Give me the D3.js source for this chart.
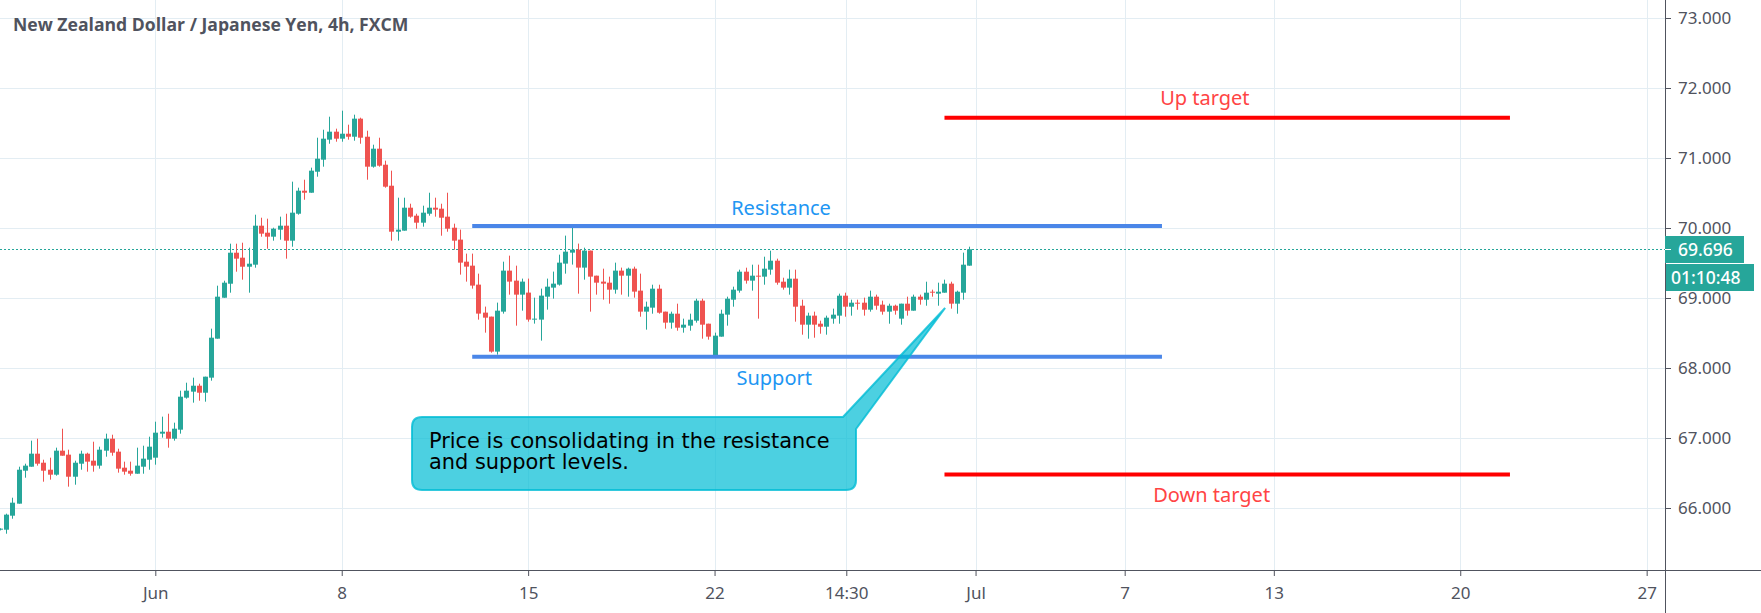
<!DOCTYPE html>
<html>
<head>
<meta charset="utf-8">
<script src="https://cdnjs.cloudflare.com/ajax/libs/d3/7.8.5/d3.min.js"></script>
<style>
  html, body { margin: 0; padding: 0; background: #fff; overflow: hidden; }
  svg { display: block; }
  text { font-family: "Noto Sans", sans-serif; }
</style>
</head>
<body>
<svg id="chart" width="1761" height="613"></svg>
<script>
const firstBar = -25; // bar 0 is the 1 Jun open, earlier bars are late May

const open = [
  65.69, 65.69, 65.89, 66.062, 66.533, 66.59, 66.776, 66.647, 66.547, 66.476, 66.819, 66.762, 66.447, 66.633, 66.776, 66.676,
  66.605, 66.819, 66.99, 66.805, 66.576, 66.533, 66.49, 66.59, 66.69, 66.719, 67.062, 67.09, 66.99, 67.119, 67.576, 67.662,
  67.747, 67.647, 67.862, 68.419, 69.004, 69.204, 69.647, 69.576, 69.447, 69.476, 70.033, 69.933, 69.876, 69.976, 70.033, 69.819,
  70.204, 70.533, 70.504, 70.804, 70.976, 71.262, 71.376, 71.276, 71.347, 71.304, 71.562, 71.304, 70.876, 71.133, 70.904, 70.604,
  69.947, 69.962, 70.29, 70.176, 70.076, 70.204, 70.29, 70.276, 70.162, 70.004, 69.834, 69.519, 69.462, 69.191, 68.791, 68.734,
  68.234, 68.805, 69.391, 69.248, 69.048, 69.077, 68.691, 68.691, 69.019, 69.148, 69.191, 69.491, 69.648, 69.691, 69.434, 69.677,
  69.319, 69.234, 69.219, 69.119, 69.391, 69.319, 69.419, 69.105, 68.805, 68.862, 69.133, 68.805, 68.648, 68.776, 68.576, 68.605,
  68.676, 68.962, 68.633, 68.162, 68.448, 68.762, 68.976, 69.105, 69.376, 69.248, 69.319, 69.305, 69.405, 69.533, 69.233, 69.148,
  69.276, 68.89, 68.619, 68.748, 68.633, 68.59, 68.705, 68.748, 69.033, 68.876, 68.933, 68.933, 68.833, 69.019, 68.905, 68.805,
  68.89, 68.705, 68.919, 68.819, 69.019, 68.976, 69.09, 69.062, 69.076, 69.205, 68.919, 69.076, 69.462
];
const close = [
  65.705, 65.905, 66.076, 66.547, 66.605, 66.776, 66.633, 66.533, 66.476, 66.819, 66.747, 66.447, 66.647, 66.776, 66.662, 66.605,
  66.833, 66.99, 66.79, 66.562, 66.519, 66.49, 66.605, 66.705, 66.876, 67.076, 67.09, 66.99, 67.133, 67.59, 67.676, 67.747,
  67.647, 67.876, 68.433, 69.019, 69.219, 69.647, 69.562, 69.447, 69.49, 70.033, 69.919, 69.876, 69.99, 70.033, 69.819, 70.219,
  70.533, 70.504, 70.819, 70.99, 71.276, 71.376, 71.276, 71.347, 71.304, 71.562, 71.29, 70.876, 71.133, 70.89, 70.59, 69.947,
  69.976, 70.29, 70.162, 70.076, 70.219, 70.29, 70.262, 70.147, 69.99, 69.819, 69.505, 69.448, 69.177, 68.777, 68.719, 68.234,
  68.819, 69.391, 69.234, 69.048, 69.234, 68.691, 68.705, 69.034, 69.162, 69.205, 69.505, 69.662, 69.691, 69.434, 69.677, 69.305,
  69.219, 69.205, 69.119, 69.391, 69.319, 69.419, 69.091, 68.805, 68.876, 69.133, 68.79, 68.648, 68.776, 68.576, 68.619, 68.69,
  68.962, 68.619, 68.448, 68.462, 68.776, 68.99, 69.119, 69.376, 69.248, 69.319, 69.305, 69.419, 69.533, 69.219, 69.148, 69.276,
  68.876, 68.619, 68.748, 68.619, 68.59, 68.719, 68.762, 69.033, 68.876, 68.933, 68.919, 68.833, 69.019, 68.89, 68.805, 68.89,
  68.819, 68.919, 68.819, 69.019, 68.976, 69.076, 69.076, 69.09, 69.205, 68.919, 69.09, 69.476, 69.696
];
const high = [
  65.71, 65.919, 66.147, 66.59, 66.633, 66.962, 66.99, 66.69, 66.719, 66.862, 67.133, 66.833, 66.676, 66.819, 66.79, 66.947,
  66.876, 67.062, 67.047, 66.847, 66.662, 66.662, 66.862, 66.89, 67.019, 67.233, 67.305, 67.347, 67.219, 67.676, 67.79, 67.862,
  67.776, 67.876, 68.562, 69.176, 69.247, 69.776, 69.776, 69.79, 69.719, 70.19, 70.147, 70.133, 70.004, 70.162, 70.204, 70.662,
  70.576, 70.69, 70.862, 71.29, 71.404, 71.59, 71.419, 71.676, 71.476, 71.619, 71.576, 71.39, 71.19, 71.29, 70.962, 70.819,
  70.433, 70.433, 70.347, 70.204, 70.319, 70.504, 70.433, 70.347, 70.504, 70.062, 69.977, 69.634, 69.634, 69.348, 68.877, 68.734,
  68.934, 69.519, 69.605, 69.462, 69.277, 69.277, 69.005, 69.134, 69.277, 69.377, 69.619, 69.891, 70.005, 69.777, 69.719, 69.677,
  69.319, 69.419, 69.305, 69.505, 69.434, 69.434, 69.448, 69.348, 68.948, 69.19, 69.19, 68.805, 68.805, 68.919, 68.705, 68.776,
  68.99, 68.99, 68.633, 68.505, 68.833, 69.019, 69.162, 69.405, 69.433, 69.476, 69.476, 69.59, 69.676, 69.562, 69.29, 69.405,
  69.405, 68.976, 68.79, 68.805, 68.676, 68.748, 68.848, 69.062, 69.076, 68.976, 68.976, 69.005, 69.105, 69.048, 68.962, 68.919,
  68.905, 68.919, 69.019, 69.048, 69.048, 69.233, 69.119, 69.219, 69.262, 69.233, 69.105, 69.648, 69.733
];
const low = [
  65.68, 65.633, 65.847, 66.062, 66.433, 66.59, 66.605, 66.376, 66.405, 66.462, 66.747, 66.305, 66.333, 66.547, 66.519, 66.519,
  66.562, 66.733, 66.747, 66.505, 66.476, 66.462, 66.49, 66.49, 66.547, 66.619, 67.005, 66.862, 66.962, 67.062, 67.562, 67.505,
  67.533, 67.519, 67.819, 68.419, 69.004, 69.076, 69.376, 69.262, 69.076, 69.433, 69.876, 69.704, 69.819, 69.833, 69.562, 69.733,
  70.19, 70.404, 70.504, 70.733, 70.876, 71.204, 71.233, 71.233, 71.262, 71.247, 71.204, 70.69, 70.862, 70.876, 70.576, 69.819,
  69.819, 69.962, 70.147, 69.99, 70.019, 70.176, 70.162, 69.89, 69.947, 69.69, 69.334, 69.234, 69.134, 68.691, 68.505, 68.219,
  68.191, 68.777, 69.048, 68.605, 68.819, 68.662, 68.634, 68.391, 68.834, 68.991, 69.177, 69.348, 69.477, 69.062, 69.262, 68.805,
  69.048, 68.977, 68.919, 69.062, 69.048, 69.019, 69.005, 68.733, 68.548, 68.776, 68.776, 68.562, 68.562, 68.533, 68.505, 68.533,
  68.648, 68.419, 68.405, 68.162, 68.448, 68.605, 68.876, 69.076, 69.205, 69.105, 68.705, 69.19, 69.333, 69.19, 69.119, 69.048,
  68.662, 68.476, 68.419, 68.433, 68.49, 68.476, 68.633, 68.633, 68.733, 68.748, 68.833, 68.748, 68.805, 68.833, 68.762, 68.633,
  68.762, 68.619, 68.748, 68.819, 68.905, 68.89, 69.019, 68.89, 69.076, 68.848, 68.776, 68.976, 69.462
];

const lastPrice = 69.696;
const countdown = "01:10:48";
const title = "New Zealand Dollar / Japanese Yen, 4h, FXCM";

const priceTicks = [73, 72, 71, 70, 69, 68, 67, 66];
const dateTickBars = [0, 30, 60, 90, 111.2, 132, 156, 180, 210, 240];
const dateTickLabels = ["Jun", "8", "15", "22", "14:30", "Jul", "7", "13", "20", "27"];

// levels drawn on the chart: name, bar from, bar to, price
const levelNames = ["Resistance", "Support", "Up target", "Down target"];
const levelFrom = [51, 51, 127, 127];
const levelTo = [162, 162, 218, 218];
const levelPrice = [70.03, 68.16, 71.576, 66.48];
const levelColor = ["#4a86e8", "#4a86e8", "#ff0000", "#ff0000"];
const labelColor = ["#2196f3", "#2196f3", "#ff4444", "#ff4444"];
const labelBar = [100.7, 99.6, 168.9, 170];
const labelPrice = [70.18, 67.76, 71.76, 66.09];

const calloutLines = ["Price is consolidating in the resistance", "and support levels."];
const calloutTipBar = 127.1;
const calloutTipPrice = 68.857;

const width = 1761, height = 613;
const axisX = 1665, axisY = 570;
const upColor = "#26a69a", downColor = "#ef5350", gridColor = "#e3edf3", axisColor = "#50535e";

const svg = d3.select("#chart");

const x = d3.scaleLinear().domain([0, 243]).range([155.3, axisX + 0.3]);
const y = d3.scaleLinear().domain([73, 66]).range([18, 508]);
const px = v => Math.round(x(v)); // keep candles on whole pixels

// Grid lines
const grid = svg.append("g");
grid.selectAll(".h").data(priceTicks).join("line")
  .attr("x1", 0).attr("x2", axisX)
  .attr("y1", d => Math.round(y(d)) + 0.5).attr("y2", d => Math.round(y(d)) + 0.5)
  .attr("stroke", gridColor);
grid.selectAll(".v").data(dateTickBars).join("line")
  .attr("x1", d => px(d) + 0.5).attr("x2", d => px(d) + 0.5)
  .attr("y1", 0).attr("y2", axisY)
  .attr("stroke", gridColor);

// Last price line
svg.append("line")
  .attr("x1", 0).attr("x2", axisX)
  .attr("y1", Math.round(y(lastPrice)) + 0.5).attr("y2", Math.round(y(lastPrice)) + 0.5)
  .attr("stroke", upColor).attr("stroke-dasharray", "2 2");

// Candles
const bars = d3.range(open.length).map(i => ({
  bar: firstBar + i, o: open[i], h: high[i], l: low[i], c: close[i]
}));
const candles = svg.append("g");
candles.selectAll(".wick").data(bars).join("rect")
  .attr("x", d => px(d.bar))
  .attr("width", 1)
  .attr("y", d => y(d.h))
  .attr("height", d => y(d.l) - y(d.h))
  .attr("fill", d => d.c >= d.o ? upColor : downColor);
candles.selectAll(".body").data(bars).join("rect")
  .attr("x", d => px(d.bar) - 2)
  .attr("width", 5)
  .attr("y", d => y(Math.max(d.o, d.c)))
  .attr("height", d => Math.max(1, Math.abs(y(d.o) - y(d.c))))
  .attr("fill", d => d.c >= d.o ? upColor : downColor);

// Level lines and their labels
levelNames.forEach((name, i) => {
  svg.append("line")
    .attr("x1", x(levelFrom[i])).attr("x2", x(levelTo[i]))
    .attr("y1", y(levelPrice[i])).attr("y2", y(levelPrice[i]))
    .attr("stroke", levelColor[i]).attr("stroke-width", 4);
  svg.append("text")
    .attr("x", x(labelBar[i])).attr("y", y(labelPrice[i]))
    .attr("text-anchor", "middle")
    .attr("fill", labelColor[i])
    .style("font-size", "20px")
    .text(name);
});

// Callout with its tail towards the price
const box = { l: 412, r: 856, t: 417, b: 490, r0: 10 };
const callout = d3.path();
callout.moveTo(box.l + box.r0, box.t);
callout.lineTo(843, box.t);
callout.lineTo(x(calloutTipBar), y(calloutTipPrice));
callout.lineTo(box.r, 429);
callout.lineTo(box.r, box.b - box.r0);
callout.quadraticCurveTo(box.r, box.b, box.r - box.r0, box.b);
callout.lineTo(box.l + box.r0, box.b);
callout.quadraticCurveTo(box.l, box.b, box.l, box.b - box.r0);
callout.lineTo(box.l, box.t + box.r0);
callout.quadraticCurveTo(box.l, box.t, box.l + box.r0, box.t);
callout.closePath();
svg.append("path")
  .attr("d", callout.toString())
  .attr("fill", "#00bcd4").attr("fill-opacity", 0.7)
  .attr("stroke", "#00bcd4").attr("stroke-opacity", 0.8).attr("stroke-width", 2);
svg.append("g").selectAll("text").data(calloutLines).join("text")
  .attr("x", 429)
  .attr("y", (d, i) => 448 + i * 21)
  .attr("fill", "#000")
  .style("font-family", "'DejaVu Sans'")
  .style("font-size", "20.9px")
  .text(d => d);

// Title
svg.append("text")
  .attr("x", 13).attr("y", 31)
  .attr("fill", axisColor)
  .style("font-family", "'Open Sans'")
  .style("font-size", "17.6px")
  .style("font-weight", "700")
  .text(title);

// Axes
const yAxis = svg.append("g")
  .attr("transform", `translate(${axisX},0)`)
  .call(d3.axisRight(y).tickValues(priceTicks).tickSize(6).tickPadding(7).tickFormat(d3.format(".3f")));
const xAxis = svg.append("g")
  .attr("transform", `translate(0,${axisY})`)
  .call(d3.axisBottom(x).tickValues(dateTickBars).tickSize(6).tickPadding(11)
    .tickFormat((d, i) => dateTickLabels[i]));
[yAxis, xAxis].forEach(a => {
  a.select(".domain").remove();
  a.selectAll("line").attr("stroke", axisColor);
  a.selectAll("text").attr("fill", axisColor).style("font-size", "17px");
});
svg.append("line").attr("x1", 0).attr("x2", width).attr("y1", axisY + 0.5).attr("y2", axisY + 0.5).attr("stroke", axisColor);
svg.append("line").attr("x1", axisX + 0.5).attr("x2", axisX + 0.5).attr("y1", 0).attr("y2", height).attr("stroke", axisColor);

// Last price and countdown tags
svg.append("rect").attr("x", axisX).attr("y", 236).attr("width", 79).attr("height", 27).attr("fill", upColor);
svg.append("rect").attr("x", axisX + 1).attr("y", 264).attr("width", 88).attr("height", 27).attr("fill", upColor);
svg.append("line").attr("x1", axisX).attr("x2", axisX + 6)
  .attr("y1", Math.round(y(lastPrice)) + 0.5).attr("y2", Math.round(y(lastPrice)) + 0.5).attr("stroke", "#fff");
svg.append("text").attr("x", axisX + 13).attr("y", 256).attr("fill", "#fff")
  .style("font-size", "17.5px").style("font-weight", "500").text(d3.format(".3f")(lastPrice));
svg.append("text").attr("x", axisX + 6).attr("y", 284).attr("fill", "#fff")
  .style("font-size", "17.5px").style("font-weight", "500").text(countdown);
</script>
</body>
</html>
